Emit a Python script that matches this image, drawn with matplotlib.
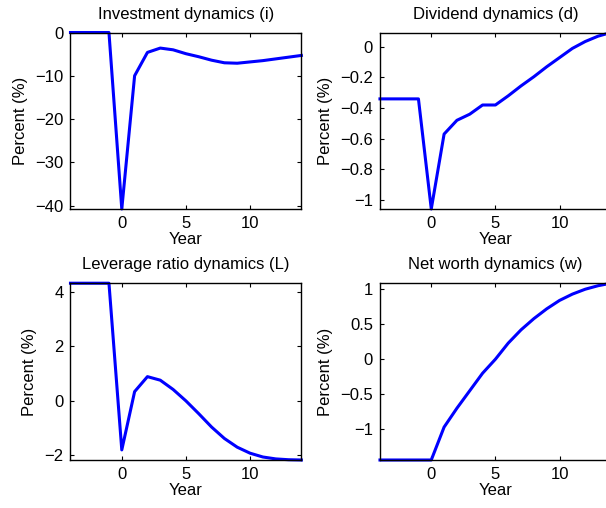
import matplotlib
matplotlib.use('Agg')
import matplotlib.pyplot as plt
from matplotlib.ticker import FuncFormatter

plt.rcParams['font.family'] = ['Liberation Sans', 'DejaVu Sans']
plt.rcParams['font.size'] = 12

# years after the shock
years = [-4, -3, -2, -1, 0, 1, 2, 3, 4, 5, 6, 7, 8, 9, 10, 11, 12, 13, 14]

# responses in percent
investment = [0, 0, 0, 0, -40.8, -10.0, -4.6, -3.6, -4.0, -4.9, -5.6, -6.4, -7.0, -7.1, -6.8, -6.5, -6.1, -5.7, -5.3]
dividend = [-0.34, -0.34, -0.34, -0.34, -1.06, -0.57, -0.48, -0.44, -0.38, -0.38, -0.32, -0.255, -0.195, -0.13,
            -0.07, -0.01, 0.035, 0.07, 0.094]
leverage = [4.32, 4.32, 4.32, 4.32, -1.8, 0.34, 0.89, 0.76, 0.42, 0.0, -0.47, -0.96, -1.38, -1.7, -1.92, -2.06,
            -2.13, -2.16, -2.17]
networth = [-1.44, -1.44, -1.44, -1.44, -1.44, -0.97, -0.7, -0.45, -0.2, 0.0, 0.23, 0.42, 0.58, 0.72, 0.84, 0.93,
            1.0, 1.05, 1.086]

titles = ['Investment dynamics (i)', 'Dividend dynamics (d)', 'Leverage ratio dynamics (L)', 'Net worth dynamics (w)']
series = [investment, dividend, leverage, networth]
yticks = [[-40, -30, -20, -10, 0],
          [-1, -0.8, -0.6, -0.4, -0.2, 0],
          [-2, 0, 2, 4],
          [-1, -0.5, 0, 0.5, 1]]

# axes boxes in figure fraction (right column runs past the edge, as in the original)
boxes = [[0.1163, 0.5886, 0.381, 0.3474],
         [0.627, 0.5886, 0.381, 0.3474],
         [0.1163, 0.0945, 0.381, 0.348],
         [0.627, 0.0945, 0.381, 0.348]]

def fmt(v, pos):
    return ('%g' % v).replace('-', '\u2212')

fig = plt.figure(figsize=(6.06, 5.08), dpi=100)
for i in range(4):
    ax = fig.add_axes(boxes[i])
    ax.plot(years, series[i], color='blue', linewidth=2.2, clip_on=False)
    ax.set_xlim(years[0], years[-1])
    ax.set_ylim(min(series[i]), max(series[i]))
    ax.set_xticks([0, 5, 10])
    ax.set_yticks(yticks[i])
    ax.yaxis.set_major_formatter(FuncFormatter(fmt))
    ax.tick_params(direction='in', top=True, right=True, length=3, width=0.8, pad=5)
    for s in ax.spines.values():
        s.set_linewidth(1.0)
    ax.set_title(titles[i], fontsize=12, pad=10)
    ax.set_xlabel('Year', labelpad=1)
    ax.set_ylabel('Percent (%)', labelpad=5)

fig.savefig('out.png', dpi=100)
